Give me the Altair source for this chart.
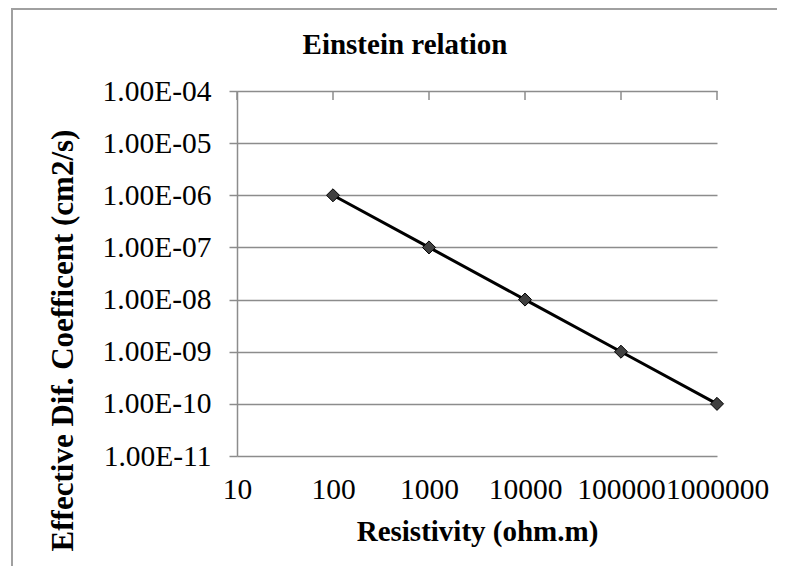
import altair as alt
import pandas as pd

# Data
resistivity = [100, 1000, 10000, 100000, 1000000]
diff_coef = [1e-6, 1e-7, 1e-8, 1e-9, 1e-10]
x_ticks = [10, 100, 1000, 10000, 100000, 1000000]
y_ticks = [1e-4, 1e-5, 1e-6, 1e-7, 1e-8, 1e-9, 1e-10, 1e-11]

df = pd.DataFrame({"r": resistivity, "d": diff_coef})
ticks_df = pd.DataFrame({"r": x_ticks})
dummy = pd.DataFrame({"a": [0]})

FONT = "Liberation Serif"
GRID = "#8c8c8c"
FRAME = "#a0a0a0"

exp_expr = "abs(round(log(datum.value)/LN10))"
y_label_expr = f"'1.00E-' + ({exp_expr} < 10 ? '0' : '') + {exp_expr}"

x_enc = alt.X(
    "r:Q",
    scale=alt.Scale(type="log", domain=[10, 1e6], nice=False),
    axis=alt.Axis(
        values=x_ticks, format="d", grid=False, domain=False, ticks=False,
        tickSize=0, labelPadding=19, labelFont=FONT, labelFontSize=29.5,
        labelColor="black", labelFlush=False, labelOverlap=False,
        title="Resistivity (ohm.m)", titleFont=FONT, titleFontSize=29,
        titleFontWeight="bold", titleColor="black", titleX=240, titleY=84,
        titleBaseline="alphabetic",
    ),
)

y_enc = alt.Y(
    "d:Q",
    scale=alt.Scale(type="log", domain=[1e-11, 1e-4], nice=False),
    axis=alt.Axis(
        values=y_ticks, labelExpr=y_label_expr, grid=True, gridColor=GRID,
        gridWidth=1.5, domainColor=GRID, domainWidth=1.5, tickColor=GRID,
        tickWidth=1.5, tickSize=8, labelPadding=18, labelFont=FONT,
        labelFontSize=29.5, labelColor="black", labelFlush=False,
        labelOverlap=False,
        title="Effective Dif. Coefficent (cm2/s)", titleFont=FONT,
        titleFontSize=31, titleFontWeight="bold", titleColor="black",
        titleAngle=270, titleX=-165, titleY=249, titleBaseline="alphabetic",
    ),
)

frame_left = alt.Chart(dummy).mark_rule(color=FRAME, strokeWidth=2).encode(
    x=alt.value(-225), y=alt.value(-83), y2=alt.value(475)
)
frame_top = alt.Chart(dummy).mark_rule(color=FRAME, strokeWidth=2).encode(
    x=alt.value(-226), x2=alt.value(540), y=alt.value(-82)
)

top_ticks = alt.Chart(ticks_df).mark_rule(color=GRID, strokeWidth=1.5).encode(
    x=x_enc, y=alt.value(0), y2=alt.value(9)
)

line = alt.Chart(df).mark_line(color="black", strokeWidth=3).encode(
    x=x_enc, y=y_enc
)
points = alt.Chart(df).mark_point(
    shape="diamond", filled=True, size=170, fill="#404040",
    stroke="black", strokeWidth=1, opacity=1,
).encode(x=x_enc, y=y_enc)

chart = (
    alt.layer(frame_left, frame_top, top_ticks, line, points)
    .properties(
        width=480,
        height=365,
        autosize=alt.AutoSizeParams(type="none"),
        padding={"left": 229, "top": 83, "right": 60, "bottom": 110},
        title=alt.TitleParams(
            "Einstein relation", font=FONT, fontSize=29, fontWeight="bold",
            color="black", anchor="middle", dx=-72, dy=76,
            baseline="alphabetic", offset=0,
        ),
        background="white",
    )
    .configure_view(stroke=None)
)

chart.save("out.html", embed_options={"renderer": "svg", "actions": False})
